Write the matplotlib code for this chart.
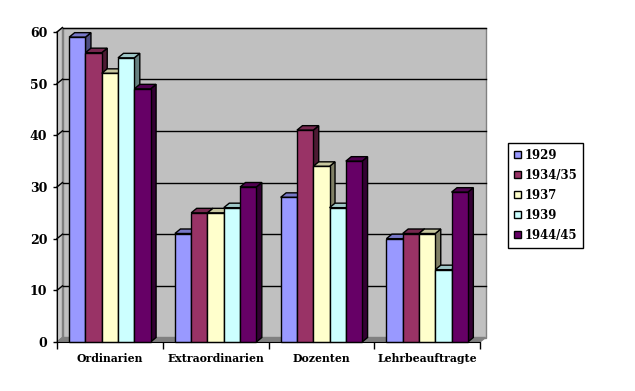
import matplotlib.pyplot as plt
from matplotlib.patches import Polygon
from matplotlib.colors import to_rgb

categories = ["Ordinarien", "Extraordinarien", "Dozenten", "Lehrbeauftragte"]
series = ["1929", "1934/35", "1937", "1939", "1944/45"]
values = {
    "1929": [59, 21, 28, 20],
    "1934/35": [56, 25, 41, 21],
    "1937": [52, 25, 34, 21],
    "1939": [55, 26, 26, 14],
    "1944/45": [49, 30, 35, 29],
}
colors = ["#9999FF", "#993366", "#FFFFCC", "#CCFFFF", "#660066"]
yticks = [0, 10, 20, 30, 40, 50, 60]

FONT = dict(family="DejaVu Serif", fontweight="bold", fontsize=7.8)
YFONT = dict(family="DejaVu Serif", fontweight="bold", fontsize=9)

# 3d depth in data units (about 5.5 px right, 4.5 px up)
DX = 5.5 / 105.75
DY = 4.5 / 5.167
BAR_W = 0.154


def shade(c, f):
    r, g, b = to_rgb(c)
    return (r * f, g * f, b * f)


fig = plt.figure(figsize=(6.35, 3.91), dpi=100)
ax = fig.add_axes([57 / 635, 49 / 391, 423 / 635, 310 / 391])
ax.set_xlim(0, len(categories))
ax.set_ylim(0, 60)
ax.patch.set_visible(False)

# walls and floor
ax.add_patch(Polygon([(DX, DY), (len(categories) + DX, DY),
                      (len(categories) + DX, 60 + DY), (DX, 60 + DY)],
                     closed=True, fc="#C0C0C0", ec="#808080", lw=1, zorder=0, clip_on=False))
ax.add_patch(Polygon([(0, 0), (DX, DY), (DX, 60 + DY), (0, 60)],
                     closed=True, fc="#C8C8C8", ec="#808080", lw=1, zorder=0.5, clip_on=False))
ax.add_patch(Polygon([(0, 0), (DX, DY), (len(categories) + DX, DY), (len(categories), 0)],
                     closed=True, fc="#808080", ec="#808080", lw=1, zorder=0.5, clip_on=False))
for v in yticks[1:]:
    ax.plot([DX, len(categories) + DX], [v + DY, v + DY], color="black", lw=1, zorder=0.8, clip_on=False)
    ax.plot([0, DX], [v, v + DY], color="black", lw=1, zorder=0.8, clip_on=False)

# bars with side and top faces
n = len(series)
start = (1 - n * BAR_W) / 2
z = 1
for gi in range(len(categories)):
    for si, name in enumerate(series):
        x0 = gi + start + si * BAR_W
        h = values[name][gi]
        c = colors[si]
        ax.add_patch(Polygon([(x0 + BAR_W, 0), (x0 + BAR_W + DX, DY), (x0 + BAR_W + DX, h + DY), (x0 + BAR_W, h)],
                             closed=True, fc=shade(c, 0.5), ec="black", lw=1, zorder=z, clip_on=False))
        ax.add_patch(Polygon([(x0, h), (x0 + DX, h + DY), (x0 + BAR_W + DX, h + DY), (x0 + BAR_W, h)],
                             closed=True, fc=shade(c, 0.78), ec="black", lw=1, zorder=z, clip_on=False))
        ax.bar(x0, h, width=BAR_W, align="edge", color=c, edgecolor="black", lw=1,
               zorder=z + 0.5, clip_on=False, label=name if gi == 0 else None)
        z += 1

for s in ["top", "right"]:
    ax.spines[s].set_visible(False)
ax.spines["left"].set_zorder(100)
ax.spines["bottom"].set_zorder(100)
ax.set_yticks(yticks)
ax.set_yticklabels([str(v) for v in yticks], **YFONT)
ax.set_xticks(range(len(categories) + 1))
ax.set_xticklabels([])
ax.set_xticks([i + 0.5 for i in range(len(categories))], minor=True)
ax.set_xticklabels(categories, minor=True, **FONT)
ax.tick_params(axis="x", which="major", length=5, width=1, direction="out")
ax.tick_params(axis="x", which="minor", length=0, pad=8)
ax.tick_params(axis="y", length=3, width=1, pad=4)

leg = ax.legend(loc="upper left", bbox_to_anchor=(508 / 635, 1 - 143 / 391), bbox_transform=fig.transFigure,
                frameon=True, fancybox=False, edgecolor="black", framealpha=1,
                prop=dict(family="DejaVu Serif", weight="bold", size=8.4),
                handlelength=0.6, handleheight=0.6, handletextpad=0.3, labelspacing=0.6,
                borderpad=0.5, borderaxespad=0)
leg.get_frame().set_linewidth(1)

fig.savefig("out.png", dpi=100)
